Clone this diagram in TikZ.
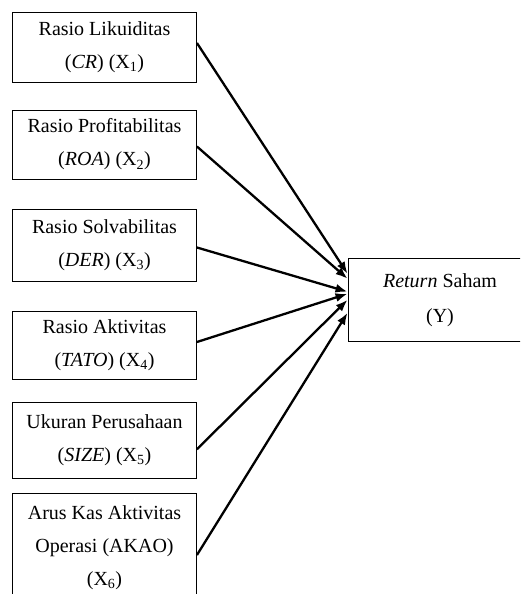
\documentclass[tikz,border=0pt]{standalone}
\usepackage{fontspec}
\setmainfont{Liberation Serif}
\usetikzlibrary{arrows.meta}
\begin{document}
\begin{tikzpicture}[x=1pt,y=-1pt,
  varbox/.style={draw=black, line width=0.9pt, minimum width=184pt, align=center,
    inner sep=0pt, font=\fontsize{20}{33}\selectfont},
  conn/.style={line width=2.3pt, -{Latex[length=12pt,width=9pt]}}]
\useasboundingbox (0,0) rectangle (520,594);
\clip (0,0) rectangle (520,594);
\fill[white] (0,0) rectangle (520,594);
\node[varbox, minimum height=70pt] (b1) at (104.5,47) {Rasio Likuiditas\\(\textit{CR}) (X\textsubscript{1})};
\node[varbox, minimum height=69pt] (b2) at (104.5,144.5) {Rasio Profitabilitas\\(\textit{ROA}) (X\textsubscript{2})};
\node[varbox, minimum height=72pt] (b3) at (104.5,245.5) {Rasio Solvabilitas\\(\textit{DER}) (X\textsubscript{3})};
\node[varbox, minimum height=68pt] (b4) at (104.5,345) {Rasio Aktivitas\\(\textit{TATO}) (X\textsubscript{4})};
\node[varbox, minimum height=76.5pt] (b5) at (104.5,440.25) {Ukuran Perusahaan\\(\textit{SIZE}) (X\textsubscript{5})};
\node[varbox, minimum height=110pt] (b6) at (104.5,548) {Arus Kas Aktivitas\\Operasi (AKAO)\\(X\textsubscript{6})};
\node[varbox, minimum height=82.5pt, font=\fontsize{20}{35}\selectfont] (r) at (440,299.75) {\textit{Return} Saham\\(Y)};
\draw[conn] ([yshift=4pt]b1.east) -- ([yshift=26pt]r.west);
\draw[conn] ([yshift=-2pt]b2.east) -- ([yshift=21pt]r.west);
\draw[conn] ([yshift=-2pt]b3.east) -- ([yshift=8pt]r.west);
\draw[conn] ([yshift=3pt]b4.east) -- ([yshift=6pt]r.west);
\draw[conn] ([yshift=-9pt]b5.east) -- ([yshift=0pt]r.west);
\draw[conn] ([yshift=-7pt]b6.east) -- ([yshift=-13pt]r.west);
\end{tikzpicture}
\end{document}
